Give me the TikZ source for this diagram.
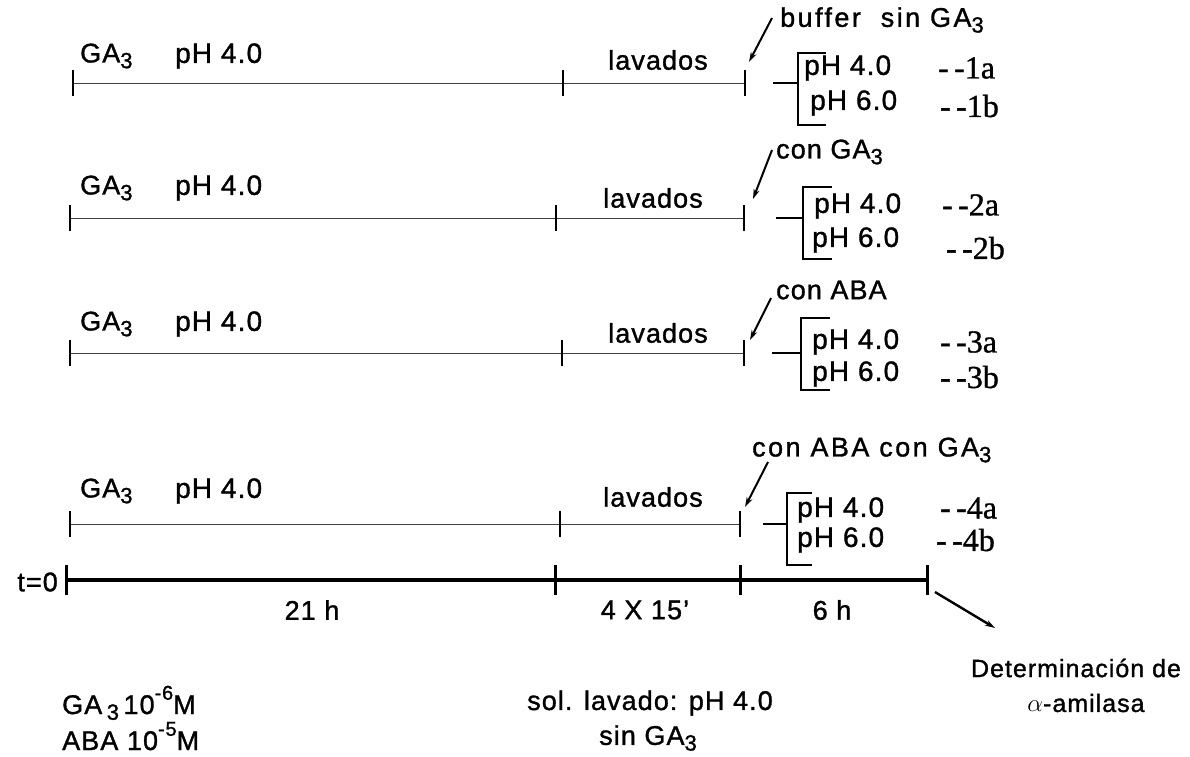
\documentclass[tikz,border=0pt]{standalone}
\usepackage{fontspec}
\setmainfont[LetterSpace=4,FakeBold=1.2]{Liberation Sans}
\newfontfamily\labfont[FakeBold=1]{Liberation Serif}
\usetikzlibrary{arrows.meta}
\newcommand{\subthree}{\raisebox{-0.4ex}{\fontsize{22}{22}\selectfont 3}}
\newcommand{\supnum}[1]{\raisebox{1.0ex}{\fontsize{20}{20}\selectfont #1}}
\begin{document}
\begin{tikzpicture}[x=1pt,y=-1pt,
  txt/.style={font=\fontsize{27}{30}\selectfont,inner sep=0pt},
  phx/.style={font=\fontsize{28}{30}\selectfont,inner sep=0pt,anchor=west},
  lab/.style={font=\labfont\fontsize{32}{34}\selectfont,inner sep=0pt,anchor=west},
  wide/.style={font=\fontsize{27}{30}\selectfont\addfontfeature{LetterSpace=9}},
  thinline/.style={line width=0.8pt,black!75},
  tickm/.style={line width=2.6pt},
  axis/.style={line width=3.6pt},
  ptr/.style={line width=2pt,-{Stealth[length=10pt,width=6pt]}},
  brk/.style={line width=1.8pt}]
\useasboundingbox (0,0) rectangle (1190,756);
% ---------- rows ----------
% row 1
\coordinate (r1s) at (73,83); \coordinate (r1m) at (563,83); \coordinate (r1e) at (745,83);
\draw[thinline] (r1s) -- (r1e);
\foreach \p in {r1s,r1m,r1e} \draw[tickm] ([yshift=-13]\p) -- ([yshift=13]\p);
\node[txt,anchor=west] (g1) at (80,56) {GA\subthree};
\node[phx] (q1) at (175,56) {pH 4.0};
\node[txt] (l1) at (658,60) {lavados};
% row 2
\coordinate (r2s) at (70,218); \coordinate (r2m) at (556,218); \coordinate (r2e) at (744,218);
\draw[thinline] (r2s) -- (r2e);
\foreach \p in {r2s,r2m,r2e} \draw[tickm] ([yshift=-13]\p) -- ([yshift=13]\p);
\node[txt,anchor=west] (g2) at (80,188) {GA\subthree};
\node[phx] (q2) at (175,188) {pH 4.0};
\node[txt] (l2) at (653,198) {lavados};
% row 3
\coordinate (r3s) at (70,353); \coordinate (r3m) at (562,353); \coordinate (r3e) at (744,353);
\draw[thinline] (r3s) -- (r3e);
\foreach \p in {r3s,r3m,r3e} \draw[tickm] ([yshift=-13]\p) -- ([yshift=13]\p);
\node[txt,anchor=west] (g3) at (80,324) {GA\subthree};
\node[phx] (q3) at (175,324) {pH 4.0};
\node[txt] (l3) at (658,333) {lavados};
% row 4
\coordinate (r4s) at (70,524); \coordinate (r4m) at (560,524); \coordinate (r4e) at (740,524);
\draw[thinline] (r4s) -- (r4e);
\foreach \p in {r4s,r4m,r4e} \draw[tickm] ([yshift=-13]\p) -- ([yshift=13]\p);
\node[txt,anchor=west] (g4) at (80,491) {GA\subthree};
\node[phx] (q4) at (175,491) {pH 4.0};
\node[txt] (l4) at (653,497) {lavados};
% ---------- right side treatments ----------
% 1
\node[txt,wide,anchor=west] (t1) at (780,20) {buffer\ \ sin GA\subthree};
\coordinate (a1s) at (772,18); \coordinate (a1e) at (749,62);
\draw[ptr] (a1s) -- (a1e);
\draw[brk] (773,83) -- (798,83);
\draw[brk] (826,53) -- (798,53) -- (798,125) -- (826,125);
\node[phx] (p1a) at (804,68) {pH 4.0};
\node[phx] (p1b) at (810,103) {pH 6.0};
\node[lab] (c1a) at (938,68) {-\,-1a};
\node[lab] (c1b) at (940,106) {-\,-1b};
% 2
\node[txt,anchor=west] (t2) at (776,152) {con GA\subthree};
\coordinate (a2s) at (772,150); \coordinate (a2e) at (753,199);
\draw[ptr] (a2s) -- (a2e);
\draw[brk] (776,218) -- (803,218);
\draw[brk] (832,187) -- (803,187) -- (803,259) -- (832,259);
\node[phx] (p2a) at (814,206) {pH 4.0};
\node[phx] (p2b) at (812,240) {pH 6.0};
\node[lab] (c2a) at (942,205) {-\,-2a};
\node[lab] (c2b) at (946,248) {-\,-2b};
% 3
\node[txt,anchor=west] (t3) at (776,290) {con ABA};
\coordinate (a3s) at (771,298); \coordinate (a3e) at (750,340);
\draw[ptr] (a3s) -- (a3e);
\draw[brk] (772,353) -- (801,353);
\draw[brk] (830,318) -- (801,318) -- (801,390) -- (830,390);
\node[phx] (p3a) at (812,342) {pH 4.0};
\node[phx] (p3b) at (812,374) {pH 6.0};
\node[lab] (c3a) at (940,342) {-\,-3a};
\node[lab] (c3b) at (940,377) {-\,-3b};
% 4
\node[txt,wide,anchor=west] (t4) at (752,450) {con ABA con GA\subthree};
\coordinate (a4s) at (768,462); \coordinate (a4e) at (745,507);
\draw[ptr] (a4s) -- (a4e);
\draw[brk] (763,524) -- (787,524);
\draw[brk] (812,493) -- (787,493) -- (787,565) -- (812,565);
\node[phx] (p4a) at (797,510) {pH 4.0};
\node[phx] (p4b) at (797,540) {pH 6.0};
\node[lab] (c4a) at (940,508) {-\,-4a};
\node[lab] (c4b) at (936,540) {-\,-4b};
% ---------- time axis ----------
\coordinate (T0) at (66,580); \coordinate (T1) at (555,580);
\coordinate (T2) at (740,580); \coordinate (T3) at (927,580);
\draw[axis] (T0) -- (T3);
\foreach \p in {T0,T1,T2,T3} \draw[tickm,line width=3pt] ([yshift=-15]\p) -- ([yshift=15]\p);
\node[txt,anchor=east] (t0) at (58,582) {t=0};
\node[txt] (h21) at (312,610) {21 h};
\node[txt] (h4) at (645,610) {4 X 15'};
\node[txt] (h6) at (832,610) {6 h};
\coordinate (da) at (935,592); \coordinate (db) at (995,628);
\draw[ptr,line width=2.4pt] (da) -- (db);
\node[txt,font=\fontsize{25}{28}\selectfont] (det) at (1076,668) {Determinación de};
\node[txt,font=\fontsize{25}{28}\selectfont] (ami) at (1086,703) {$\alpha$-amilasa};
% ---------- bottom notes ----------
\node[txt,anchor=base west] (n1) at (62,714) {GA\,\subthree\,10\supnum{-6}M};
\node[txt,anchor=base west] (n2) at (62,750) {ABA 10\supnum{-5}M};
\node[txt] (s1) at (650,703) {sol. lavado: pH 4.0};
\node[txt] (s2) at (648,738) {sin GA\subthree};
\end{tikzpicture}
\end{document}
